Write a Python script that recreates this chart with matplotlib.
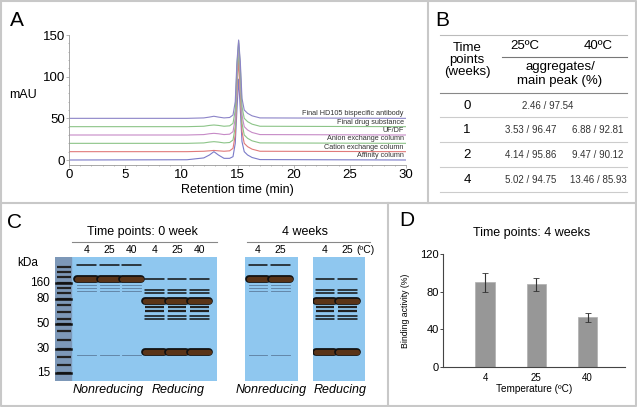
import matplotlib
matplotlib.use("Agg")
import matplotlib.pyplot as plt
import numpy as np

plt.rcParams['font.family'] = ['Liberation Sans', 'DejaVu Sans']

W, H = 637, 407

# ---- panel A: SEC-HPLC chromatograms (mAU, stacked baselines) ----
t_min = [0, 10.5, 12.0, 12.5, 12.9, 13.3, 13.8, 14.3, 14.6, 14.8, 14.95,
         15.1, 15.25, 15.4, 15.6, 15.9, 16.3, 17.0, 30]
affinity = [0, 0.3, 2.5, 6, 10, 6, 2, 2, 4, 20, 60, 97, 60, 22, 10, 6, 3, 0.5, 0]
cation = [10, 10, 10.5, 11, 11.5, 11, 10.5, 11, 14, 30, 80, 122, 80, 34, 20, 16, 13, 10.5, 10]
anion = [20, 20, 20.5, 21.5, 22, 21.5, 20.5, 21, 24, 40, 95, 135, 95, 44, 30, 26, 23, 20.5, 20]
ufdf = [30, 30, 30.5, 31.5, 32, 31.5, 30.5, 31, 34, 50, 105, 140, 105, 54, 40, 36, 33, 30.5, 30]
final_ds = [40, 40, 40.5, 41.5, 42, 41.5, 40.5, 41, 44, 60, 112, 143, 112, 64, 50, 46, 43, 40.5, 40]
final_ab = [50, 50, 50.5, 51.5, 52.5, 51.5, 50.5, 51, 54, 70, 118, 144, 118, 74, 60, 56, 53, 50.5, 50]
trace_names = ['Affinity column', 'Cation exchange column', 'Anion exchange column',
               'UF/DF', 'Final drug substance', 'Final HD105 bispecific antibody']
trace_colors = ['#7a7ac8', '#e07a7a', '#8cc488', '#c68ac6', '#8cc488', '#8c84c8']

# ---- panel B: aggregates / main peak (%) ----
weeks = [0, 1, 2, 4]
agg_25 = [2.46, 3.53, 4.14, 5.02]
main_25 = [97.54, 96.47, 95.86, 94.75]
agg_40 = [2.46, 6.88, 9.47, 13.46]
main_40 = [97.54, 92.81, 90.12, 85.93]

# ---- panel C: SDS-PAGE (relative migration, 0 = top of gel) ----
ladder_kda = [160, 80, 50, 30, 15]
ladder_rf = [0.21, 0.34, 0.54, 0.74, 0.935]
ladder_all_rf = [0.08, 0.12, 0.16, 0.21, 0.25, 0.29, 0.34, 0.39, 0.44, 0.50,
                 0.54, 0.60, 0.67, 0.74, 0.81, 0.87, 0.935]
nr_rf = [0.065, 0.177, 0.226, 0.25, 0.274, 0.79]
nr_kind = ['thin', 'thick', 'faint', 'faint', 'faint', 'faint']
red_rf = [0.177, 0.266, 0.29, 0.355, 0.40, 0.435, 0.476, 0.50, 0.766]
red_kind = ['thin', 'thin', 'thin', 'thick', 'mid', 'mid', 'thin', 'thin', 'thick']
temps_0wk = ['4', '25', '40', '4', '25', '40']
temps_4wk = ['4', '25']

# ---- panel D: binding activity ----
temps_d = ['4', '25', '40']
binding = [90, 88, 53]
binding_err = [10, 7, 4.7]


def box(l, t, r, b):
    return [l / W, 1 - b / H, (r - l) / W, (b - t) / H]


fig = plt.figure(figsize=(W / 100, H / 100), dpi=100)
bg = fig.add_axes([0, 0, 1, 1])
bg.set_xlim(0, W)
bg.set_ylim(H, 0)
bg.axis('off')

# frame and dividers
fc = '#c8c8c8'
bg.plot([1, W - 1, W - 1, 1, 1], [1, 1, H - 1, H - 1, 1], color=fc, lw=1.5)
bg.plot([0, W], [203, 203], color=fc, lw=1.5)
bg.plot([428, 428], [0, 203], color=fc, lw=1.5)
bg.plot([388, 388], [203, H], color=fc, lw=1.5)

for letter, x, y in [('A', 10, 20), ('B', 435, 20), ('C', 7, 222), ('D', 399, 220)]:
    bg.text(x, y, letter, fontsize=15, ha='left', va='center')

# ---------- A ----------
axA = fig.add_axes(box(69, 35, 406, 165))
series = [affinity, cation, anion, ufdf, final_ds, final_ab]
for vals, name, col in zip(series, trace_names, trace_colors):
    axA.plot(t_min, vals, color=col, lw=0.8)
    axA.text(29.8, vals[-1] + 1.2, name, fontsize=5.2, color='#333333',
             ha='right', va='bottom')
axA.set_xlim(0, 30)
axA.set_ylim(-6, 150)
axA.set_xticks([0, 5, 10, 15, 20, 25, 30])
axA.set_yticks([0, 50, 100, 150])
axA.set_xticks(np.arange(0, 31, 1), minor=True)
axA.set_yticks(np.arange(0, 151, 10), minor=True)
for s in ['top', 'right']:
    axA.spines[s].set_visible(False)
for s in ['left', 'bottom']:
    axA.spines[s].set_color('#999999')
    axA.spines[s].set_linewidth(0.6)
axA.tick_params(which='both', length=2, width=0.5, color='#999999', labelsize=9.5, pad=1)
axA.tick_params(which='minor', length=1)
axA.set_xlabel('Retention time (min)', fontsize=9, labelpad=2)
axA.set_facecolor('none')
bg.text(23, 95, 'mAU', fontsize=9, ha='center', va='center')

# ---------- B ----------
xl, xr = 440, 627
bg.plot([xl, xr], [35, 35], color='#bbbbbb', lw=0.8)
bg.plot([502, xr], [57, 57], color='#777777', lw=0.8)
bg.plot([xl, xr], [93, 93], color='#888888', lw=0.8)
for yy in [117, 142, 167, 192]:
    bg.plot([xl, xr], [yy, yy], color='#cccccc', lw=0.8)
bg.text(467, 60, 'Time\npoints\n(weeks)', fontsize=9.5, ha='center', va='center',
        linespacing=0.95)
bg.text(525, 46, '25\u00baC', fontsize=9.5, ha='center', va='center')
bg.text(598, 46, '40\u00baC', fontsize=9.5, ha='center', va='center')
bg.text(560, 67, 'aggregates/', fontsize=9.5, ha='center', va='center')
bg.text(560, 81, 'main peak (%)', fontsize=9.5, ha='center', va='center')
row_y = [106, 130, 155, 180]
for i, wk in enumerate(weeks):
    bg.text(467, row_y[i], str(wk), fontsize=9.5, ha='center', va='center')
    if i == 0:
        bg.text(548, row_y[i], '%.2f / %.2f' % (agg_25[i], main_25[i]),
                fontsize=7, ha='center', va='center', color='#333333')
    else:
        bg.text(531, row_y[i], '%.2f / %.2f' % (agg_25[i], main_25[i]),
                fontsize=7, ha='center', va='center', color='#333333')
        bg.text(598, row_y[i], '%.2f / %.2f' % (agg_40[i], main_40[i]),
                fontsize=7, ha='center', va='center', color='#333333')

# ---------- C ----------
gel_color = '#8fc7ef'
band_dark = '#111111'
band_brown = '#5a3418'


def draw_band(ax, x, rf, kind, half=0.42):
    xs = [x - half, x + half]
    if kind == 'thick':
        ax.plot(xs, [rf, rf], color=band_dark, lw=5.6, solid_capstyle='round')
        ax.plot(xs, [rf, rf], color=band_brown, lw=3.8, solid_capstyle='round')
    elif kind == 'mid':
        ax.plot(xs, [rf, rf], color='#222222', lw=1.6, solid_capstyle='butt')
    elif kind == 'thin':
        ax.plot(xs, [rf, rf], color=band_dark, lw=1.1, solid_capstyle='round')
    else:
        ax.plot(xs, [rf, rf], color='#3a4a66', lw=0.6, alpha=0.6)


def make_gel(l, r, lane0_px):
    ax = fig.add_axes(box(l, 257, r, 381))
    step = 22.6
    ax.set_xlim((l - lane0_px) / step, (r - lane0_px) / step)
    ax.set_ylim(1, 0)
    ax.set_facecolor(gel_color)
    ax.set_xticks([])
    ax.set_yticks([])
    for s in ax.spines.values():
        s.set_visible(False)
    return ax


gel1 = make_gel(55, 217, 64)
gel1.axvspan(-0.4, 0.33, color='#7d98b8')
for rf in ladder_all_rf:
    draw_band(gel1, 0, rf, 'mid', half=0.3)
for rf in ladder_rf:
    gel1.plot([-0.35, 0.3], [rf, rf], color=band_dark, lw=1.8)
for lane in [1, 2, 3]:
    for rf, kind in zip(nr_rf, nr_kind):
        draw_band(gel1, lane, rf, kind)
for lane in [4, 5, 6]:
    for rf, kind in zip(red_rf, red_kind):
        draw_band(gel1, lane, rf, kind)

gel2 = make_gel(245, 298, 258)
for lane in [0, 1]:
    for rf, kind in zip(nr_rf, nr_kind):
        draw_band(gel2, lane, rf, kind)

gel3 = make_gel(313, 365, 325)
for lane in [0, 1]:
    for rf, kind in zip(red_rf, red_kind):
        draw_band(gel3, lane, rf, kind)

for i, lab in enumerate(temps_0wk):
    bg.text(64 + 22.6 * (i + 1), 250, lab, fontsize=7.5, ha='center', va='center')
for i, lab in enumerate(temps_4wk):
    bg.text(258 + 22.6 * i, 250, lab, fontsize=7.5, ha='center', va='center')
    bg.text(325 + 22.6 * i, 250, lab, fontsize=7.5, ha='center', va='center')
bg.text(356, 250, '(\u00baC)', fontsize=7.5, ha='left', va='center')

bg.text(142, 232, 'Time points: 0 week', fontsize=9, ha='center', va='center')
bg.plot([72, 217], [242, 242], color='#888888', lw=0.8)
bg.text(305, 232, '4 weeks', fontsize=9, ha='center', va='center')
bg.plot([247, 370], [242, 242], color='#888888', lw=0.8)

bg.text(28, 263, 'kDa', fontsize=8.5, ha='center', va='center')
for kda, rf in zip(ladder_kda, ladder_rf):
    bg.text(50, 257 + 124 * rf, str(kda), fontsize=8.5, ha='right', va='center')

for txt, x in [('Nonreducing', 108), ('Reducing', 178), ('Nonreducing', 271), ('Reducing', 340)]:
    bg.text(x, 390, txt, fontsize=9, style='italic', ha='center', va='center')

# ---------- D ----------
axD = fig.add_axes(box(443, 254, 625, 367))
xd = np.arange(len(temps_d))
axD.bar(xd, binding, width=0.38, color='#979797', edgecolor='#b0b0b0', lw=0.5)
axD.errorbar(xd, binding, yerr=binding_err, fmt='none', ecolor='#333333',
             elinewidth=0.8, capsize=2, capthick=0.6)
axD.set_xlim(-0.82, 2.73)
axD.set_ylim(0, 120)
axD.set_yticks([0, 40, 80, 120])
axD.set_xticks(xd)
axD.set_xticklabels(temps_d)
for s in ['top', 'right']:
    axD.spines[s].set_visible(False)
for s in ['left', 'bottom']:
    axD.spines[s].set_color('#444444')
    axD.spines[s].set_linewidth(0.8)
axD.tick_params(axis='y', length=2, width=0.5, labelsize=8, pad=1)
axD.tick_params(axis='x', length=0, labelsize=7, pad=4)
axD.set_xlabel('Temperature (\u00baC)', fontsize=7.2, labelpad=1)
axD.set_ylabel('Binding activity (%)', fontsize=6.3, labelpad=7)
bg.text(532, 233, 'Time points: 4 weeks', fontsize=9, ha='center', va='center')

fig.savefig('out.png', dpi=100)
